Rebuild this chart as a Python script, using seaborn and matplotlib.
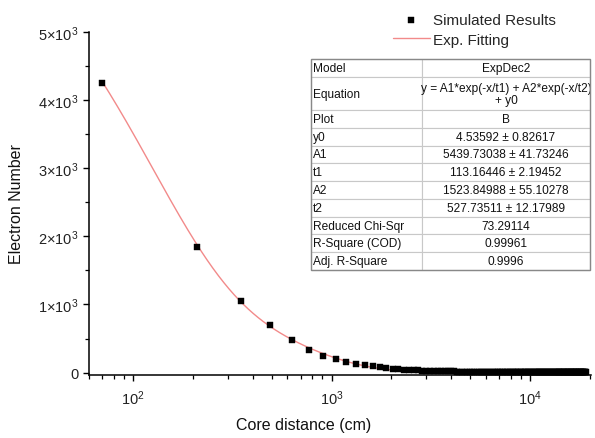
import numpy as np
import pandas as pd
import matplotlib
matplotlib.use("Agg")
import matplotlib.pyplot as plt
import matplotlib.ticker as mticker
from matplotlib.table import Table
from matplotlib.patches import Rectangle
import seaborn as sns

# ---------------- data ----------------
core_distance = [
    70, 210, 350, 490, 630, 770, 910, 1050, 1190, 1330,
    1470, 1610, 1750, 1890, 2030, 2170, 2310, 2450, 2590, 2730,
    2870, 3010, 3150, 3290, 3430, 3570, 3710, 3850, 3990, 4130,
    4270, 4410, 4550, 4690, 4830, 4970, 5110, 5250, 5390, 5530,
    5670, 5810, 5950, 6090, 6230, 6370, 6510, 6650, 6790, 6930,
    7070, 7210, 7350, 7490, 7630, 7770, 7910, 8050, 8190, 8330,
    8470, 8610, 8750, 8890, 9030, 9170, 9310, 9450, 9590, 9730,
    9870, 10010, 10150, 10290, 10430, 10570, 10710, 10850, 10990, 11130,
    11270, 11410, 11550, 11690, 11830, 11970, 12110, 12250, 12390, 12530,
    12670, 12810, 12950, 13090, 13230, 13370, 13510, 13650, 13790, 13930,
    14070, 14210, 14350, 14490, 14630, 14770, 14910, 15050, 15190, 15330,
    15470, 15610, 15750, 15890, 16030, 16170, 16310, 16450, 16590, 16730,
    16870, 17010, 17150, 17290, 17430, 17570, 17710, 17850, 17990, 18130,
    18270, 18410, 18550, 18690, 18830, 18970, 19110,
]
electron_number = [
    4252, 1843, 1046, 704, 483, 325, 248, 200, 155, 132,
    115, 92, 76, 68, 58, 50, 44, 40, 36, 33,
    31, 29, 27, 25, 23, 22, 20, 19, 18, 17,
    16, 15, 14, 14, 13, 12, 12, 11, 11, 10,
    10, 10, 9, 9, 9, 9, 8, 8, 8, 8,
    8, 8, 7, 7, 7, 7, 7, 7, 7, 7,
    7, 6, 6, 7, 6, 6, 6, 6, 6, 6,
    6, 6, 6, 6, 6, 6, 6, 5, 6, 5,
    5, 6, 5, 5, 5, 5, 5, 5, 5, 5,
    5, 5, 5, 5, 5, 5, 5, 5, 5, 5,
    5, 5, 5, 5, 4, 5, 5, 4, 5, 4,
    4, 5, 4, 4, 4, 4, 5, 4, 4, 4,
    4, 4, 4, 4, 4, 4, 4, 4, 4, 4,
    4, 4, 4, 4, 4, 4, 4,
]

# fitted ExpDec2 parameters (from the table in the chart)
fit_y0 = 4.53592
fit_A1 = 5439.73038
fit_t1 = 113.16446
fit_A2 = 1523.84988
fit_t2 = 527.73511

table_labels = ["Model", "Equation", "Plot", "y0", "A1", "t1", "A2", "t2",
                "Reduced Chi-Sqr", "R-Square (COD)", "Adj. R-Square"]
table_values = ["ExpDec2",
                "y = A1*exp(-x/t1) + A2*exp(-x/t2)\n+ y0",
                "B",
                "4.53592 \u00b1 0.82617",
                "5439.73038 \u00b1 41.73246",
                "113.16446 \u00b1 2.19452",
                "1523.84988 \u00b1 55.10278",
                "527.73511 \u00b1 12.17989",
                "73.29114",
                "0.99961",
                "0.9996"]

y_ticks = [0, 1000, 2000, 3000, 4000, 5000]
y_tick_labels = ["0", r"$1{\times}10^{3}$", r"$2{\times}10^{3}$",
                 r"$3{\times}10^{3}$", r"$4{\times}10^{3}$", r"$5{\times}10^{3}$"]

df = pd.DataFrame({"x": core_distance, "y": electron_number})
x_fit = np.geomspace(min(core_distance), max(core_distance), 600)
fit_df = pd.DataFrame({
    "x": x_fit,
    "y": fit_A1 * np.exp(-x_fit / fit_t1) + fit_A2 * np.exp(-x_fit / fit_t2) + fit_y0,
})

# ---------------- style ----------------
sns.set_theme(style="ticks")
plt.rcParams["font.family"] = ["Liberation Sans", "DejaVu Sans"]
plt.rcParams["mathtext.fontset"] = "custom"
plt.rcParams["mathtext.rm"] = "Liberation Sans"
plt.rcParams["mathtext.it"] = "Liberation Sans:italic"
plt.rcParams["mathtext.bf"] = "Liberation Sans:bold"

fig = plt.figure(figsize=(5.95, 4.39), dpi=100)
W, H = 595, 439
ax_l, ax_r, ax_t, ax_b = 89, 591, 33, 376
ax = fig.add_axes([ax_l / W, 1 - ax_b / H, (ax_r - ax_l) / W, (ax_b - ax_t) / H])

sns.lineplot(data=fit_df, x="x", y="y", ax=ax, color="#f28a8a", linewidth=1.0,
             label="Exp. Fitting", zorder=2)
sns.scatterplot(data=df, x="x", y="y", ax=ax, color="black", marker="s", s=16,
                edgecolor="black", linewidth=0.3, label="Simulated Results", zorder=3)

ax.set_xscale("log")
ax.set_xlim(60, 20300)
ax.set_ylim(-35, 5000)

ax.set_yticks(y_ticks)
ax.set_yticklabels(y_tick_labels)
ax.yaxis.set_minor_locator(mticker.MultipleLocator(500))
ax.xaxis.set_major_locator(mticker.LogLocator(base=10, numticks=10))
ax.xaxis.set_minor_locator(mticker.LogLocator(base=10, subs=np.arange(2, 10), numticks=20))
ax.xaxis.set_minor_formatter(mticker.NullFormatter())

for sp in ["top", "right"]:
    ax.spines[sp].set_visible(False)
for sp in ["left", "bottom"]:
    ax.spines[sp].set_linewidth(1.1)
    ax.spines[sp].set_color("black")

ax.tick_params(axis="both", which="major", direction="out", length=4.5, width=1.0,
               color="black", labelsize=10.5, labelcolor="#222222", pad=3)
ax.tick_params(axis="both", which="minor", direction="out", length=2.8, width=0.9,
               color="black")
ax.tick_params(axis="x", which="major", pad=5)

ax.set_xlabel("Core distance (cm)", fontsize=11.5, color="#111111")
ax.set_ylabel("Electron Number", fontsize=11.5, color="#111111")
ax.xaxis.set_label_coords((304 - ax_l) / (ax_r - ax_l), (ax_b - 418) / (ax_b - ax_t))
ax.yaxis.set_label_coords((24 - ax_l) / (ax_r - ax_l), 0.5)
ax.grid(False)

# legend
handles, labels = ax.get_legend_handles_labels()
order = [labels.index("Simulated Results"), labels.index("Exp. Fitting")]
leg = ax.legend([handles[i] for i in order], [labels[i] for i in order],
                loc="upper left", bbox_to_anchor=(393 / W, 1 - 14 / H),
                bbox_transform=fig.transFigure, frameon=False, fontsize=11,
                handlelength=2.4, handletextpad=0.25, labelspacing=0.38,
                borderpad=0, borderaxespad=0, markerscale=1.0)

# table
tl, tr, tt, tb = 311, 590, 60, 271
def to_ax_x(px):
    return (px - ax_l) / (ax_r - ax_l)
def to_ax_y(py):
    return (ax_b - py) / (ax_b - ax_t)

tbl = Table(ax, bbox=[to_ax_x(tl), to_ax_y(tb), to_ax_x(tr) - to_ax_x(tl),
                      to_ax_y(tt) - to_ax_y(tb)])
col_w = [111, 168]
for i, (lab, val) in enumerate(zip(table_labels, table_values)):
    h = 30 if lab == "Equation" else (17 if lab == "Model" else 16.4)
    c0 = tbl.add_cell(i, 0, col_w[0], h, text=lab, loc="left", edgecolor="#c8c8c8",
                      facecolor="white")
    c0.PAD = 0.02
    c1 = tbl.add_cell(i, 1, col_w[1], h, text=val, loc="center", edgecolor="#c8c8c8",
                      facecolor="white")
    for c in (c0, c1):
        c.set_linewidth(0.8)
        c.get_text().set_color("#111111")
        c.get_text().set_linespacing(1.0)
tbl.auto_set_font_size(False)
tbl.set_fontsize(8.6)
ax.add_table(tbl)
ax.add_patch(Rectangle((to_ax_x(tl), to_ax_y(tb)), to_ax_x(tr) - to_ax_x(tl),
                       to_ax_y(tt) - to_ax_y(tb), transform=ax.transAxes,
                       fill=False, edgecolor="#888888", linewidth=1.0, zorder=10,
                       clip_on=False))

fig.savefig("out.png", dpi=100)
